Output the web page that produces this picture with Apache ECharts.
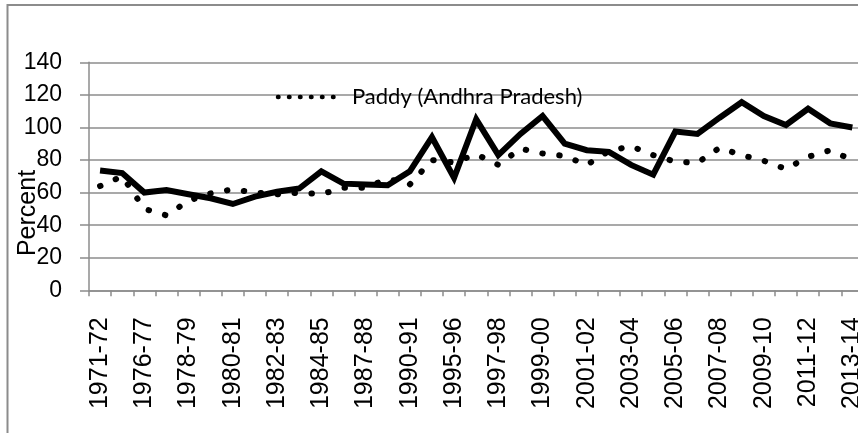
<!DOCTYPE html>
<html>
<head>
<meta charset="utf-8">
<script src="https://cdn.jsdelivr.net/npm/echarts@6/dist/echarts.min.js"></script>
<style>
html,body{margin:0;padding:0;background:#fff;}
#chart{width:858px;height:433px;}
</style>
</head>
<body>
<div id="chart"></div>
<script>
var categories = ['1971-72','1975-76','1976-77','1977-78','1978-79','1979-80','1980-81','1981-82','1982-83','1983-84','1984-85','1985-86','1987-88','1988-89','1990-91','1994-95','1995-96','1996-97','1997-98','1998-99','1999-00','2000-01','2001-02','2002-03','2003-04','2004-05','2005-06','2006-07','2007-08','2008-09','2009-10','2010-11','2011-12','2012-13','2013-14'];
var solidName = 'Paddy (All India)';
var solidValues = [73.5, 72, 60, 61.5, 59, 56.5, 53, 57.5, 60.5, 62.5, 73, 65.5, 65, 64.5, 73, 94, 69, 105, 83, 96, 107, 90, 86, 85, 77, 71, 97.5, 96, 106, 115.5, 107, 101.5, 111.5, 102.5, 100];
var dottedName = 'Paddy (Andhra Pradesh)';
var dottedValues = [64, 70, 50, 46, 55, 59.5, 62, 60, 59, 60, 59, 63, 63, 68.5, 65, 80, 78.5, 83.5, 77, 87, 84, 82.5, 77, 85.5, 88.5, 83, 79, 78.3, 87.5, 83, 79.5, 74.5, 82, 86, 80];
var yTicks = {min: 0, max: 140, interval: 20};
var yAxisName = 'Percent';

var chart = echarts.init(document.getElementById('chart'), null, {renderer: 'canvas'});
var gray = '#8c8c8c';
chart.setOption({
  animation: false,
  backgroundColor: '#fff',
  legend: {show: false},
  graphic: [
    {
      type: 'rect', silent: true, z: -10,
      shape: {x: 7.5, y: 5, width: 900, height: 500},
      style: {fill: 'none', stroke: gray, lineWidth: 2}
    },
    {
      type: 'line', silent: true, z: 10,
      shape: {x1: 278, y1: 97, x2: 342, y2: 97},
      style: {stroke: '#000', lineWidth: 4.5, lineDash: [0.5, 10.5], lineCap: 'round'}
    },
    {
      type: 'text', silent: true, z: 10,
      x: 352, y: 97,
      style: {text: dottedName, fill: '#000', font: '22px Lato, "Liberation Sans"', verticalAlign: 'middle', align: 'left'}
    },
    {
      type: 'text', silent: true, z: 10,
      x: 28, y: 213, rotation: Math.PI / 2,
      style: {text: yAxisName, fill: '#000', font: '25px "Liberation Sans"', verticalAlign: 'middle', align: 'center'}
    }
  ],
  grid: {left: 89, top: 62.3, bottom: 142.7, right: -5.4, containLabel: false, outerBoundsMode: 'none'},
  xAxis: {
    type: 'category',
    data: categories,
    boundaryGap: true,
    axisLine: {lineStyle: {color: gray, width: 1.5}},
    axisTick: {show: true, interval: 0, length: 6, lineStyle: {color: gray, width: 1.5}},
    axisLabel: {interval: 1, rotate: 90, margin: 27, fontFamily: 'Liberation Sans', fontSize: 25, color: '#000'},
    splitLine: {show: false}
  },
  yAxis: {
    type: 'value',
    min: yTicks.min, max: yTicks.max, interval: yTicks.interval,
    axisLine: {show: true, lineStyle: {color: gray, width: 1.5}},
    axisTick: {show: true, length: 9, lineStyle: {color: gray, width: 1.5}},
    axisLabel: {margin: 27, fontFamily: 'Liberation Sans', fontSize: 23, color: '#000'},
    splitLine: {show: true, lineStyle: {color: gray, width: 1.5}}
  },
  series: [
    {
      name: solidName, type: 'line', data: solidValues,
      symbol: 'none', smooth: false,
      lineStyle: {color: '#000', width: 6, join: 'miter'},
      z: 3
    },
    {
      name: dottedName, type: 'line', data: dottedValues,
      symbol: 'none', smooth: false,
      lineStyle: {color: '#000', width: 6, type: [0.5, 16.5], cap: 'round'},
      z: 2
    }
  ]
});
</script>
</body>
</html>
